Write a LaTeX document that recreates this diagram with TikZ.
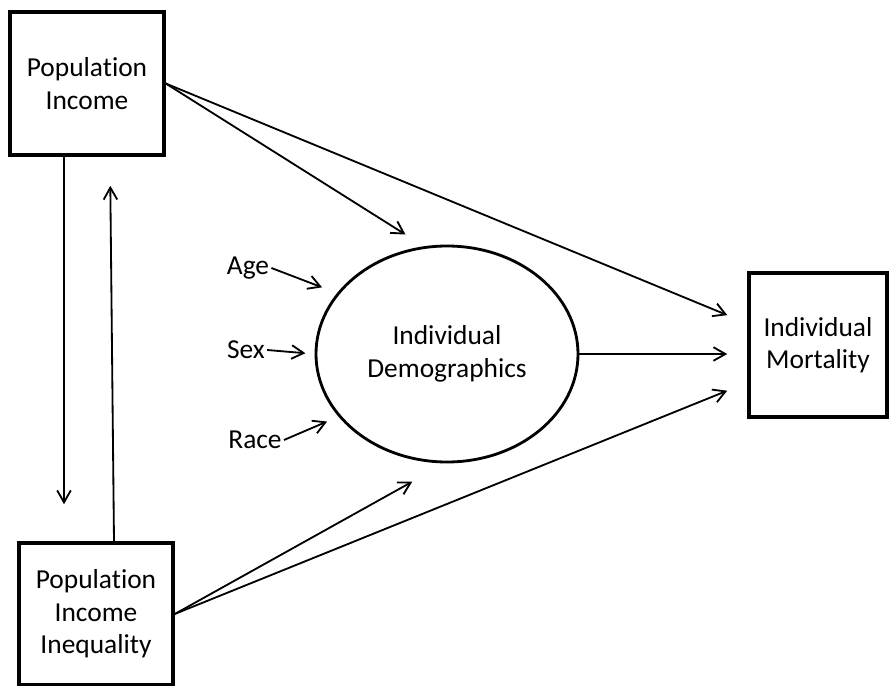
\documentclass[tikz,border=0pt]{standalone}
\usepackage{fontspec}
\setmainfont[Ligatures=NoCommon]{Carlito}
\usetikzlibrary{arrows.meta, positioning, shapes.geometric, calc}
\tikzset{
  every picture/.style={font=\fontsize{19.5}{23}\selectfont, line width=1.3pt},
  box/.style={draw, line width=2.5pt, align=center, inner sep=4pt},
  arrow/.style={-{Straight Barb[length=3mm, width=3.4mm]}, line width=1.3pt},
  factor/.style={inner sep=1pt},
}

\begin{document}
\begin{tikzpicture}
  \useasboundingbox (0,0) rectangle (22.275,-17.15);
  \node[box, minimum width=3.85cm, minimum height=3.575cm] (inc) at (2.175,-2.0875) {Population\\ Income};
  \node[box, minimum width=3.85cm, minimum height=3.55cm] (ineq) at (2.4,-15.35) {Population\\ Income\\ Inequality};
  \node[box, minimum width=3.45cm, minimum height=3.6cm] (mort) at (20.45,-8.625) {Individual\\ Mortality};
  \node[draw, ellipse, line width=2pt, minimum width=6.55cm, minimum height=5.4cm, align=center] (demo) at (11.175,-8.85) {Individual\\ Demographics};
  \node[factor] (age) at (6.2,-6.7) {Age};
  \node[factor] (sex) at (6.15,-8.75) {Sex};
  \node[factor] (race) at (6.375,-11.0) {Race};
  \coordinate (down) at ([xshift=-0.575cm]inc.south);
  \draw[arrow, shorten >=0.55cm] (inc.east) -- (demo.102);
  \draw[arrow, shorten >=0.54cm] (inc.east) -- (mort.163);
  \draw[arrow, shorten >=0.5cm] (demo.east) -- (demo.east -| mort.west);
  \draw[arrow, shorten >=0.54cm] (ineq.east) -- (mort.208);
  \draw[arrow, shorten >=0.94cm] (ineq.east) -- (demo.269);
  \draw[arrow, shorten >=0.4cm] (age.east) -- (demo.151);
  \draw[arrow, shorten >=0.23cm] (sex.east) -- (demo.west);
  \draw[arrow, shorten >=0.31cm] (race.east) -- (demo.210);
  \draw[arrow, shorten >=0.925cm] (down) -- (down |- ineq.north);
  \draw[arrow, shorten >=0.725cm] ([xshift=0.45cm]ineq.north) -- ([xshift=0.575cm]inc.south);
\end{tikzpicture}
\end{document}
